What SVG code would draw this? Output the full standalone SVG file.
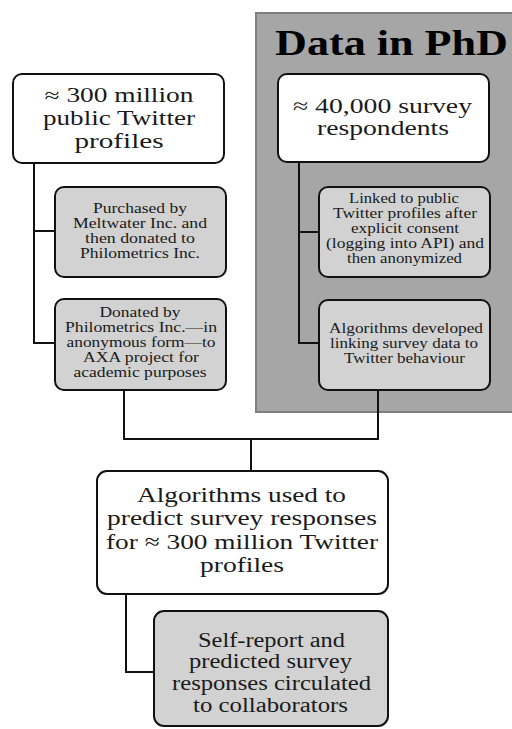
<svg xmlns="http://www.w3.org/2000/svg" width="512" height="729" viewBox="0 0 512 729">
<style>
  text { font-family: "Liberation Serif", "Times New Roman", serif; fill: #1a1a1a; text-anchor: middle; }
  .w { fill: #ffffff; stroke: #111; stroke-width: 2; }
  .g { fill: #d2d2d2; stroke: #111; stroke-width: 2; }
  .big { font-size: 21px; }
  .sm { font-size: 15px; }
  .conn { fill: none; stroke: #111; stroke-width: 2; }
</style>
<rect width="512" height="729" fill="#ffffff"/>
<g id="panel">
  <rect x="256" y="13" width="270" height="399" fill="#a6a6a6" stroke="#7f7f7f" stroke-width="2"/>
  <text x="391.5" y="55" style="font-size:35px;font-weight:bold;fill:#000" textLength="233" lengthAdjust="spacingAndGlyphs">Data in PhD</text>
</g>
<g id="connectors">
  <polyline class="conn" points="34,163 34,343 55,343"/>
  <line class="conn" x1="34" y1="231" x2="55" y2="231"/>
  <polyline class="conn" points="299,162 299,343 319,343"/>
  <line class="conn" x1="299" y1="232" x2="319" y2="232"/>
  <polyline class="conn" points="124,390 124,439 378,439 378,390"/>
  <line class="conn" x1="251" y1="439" x2="251" y2="471"/>
  <polyline class="conn" points="126,594 126,672 154,672"/>
</g>
<g id="n1">
  <rect class="w" x="13" y="74" width="211" height="89" rx="9"/>
  <text class="big" x="119" y="102" style="font-size:20px" textLength="149" lengthAdjust="spacingAndGlyphs">≈ 300 million</text>
  <text class="big" x="119" y="125" style="font-size:20px" textLength="152" lengthAdjust="spacingAndGlyphs">public Twitter</text>
  <text class="big" x="119" y="148" style="font-size:20px" textLength="89" lengthAdjust="spacingAndGlyphs">profiles</text>
</g>
<g id="n2">
  <rect class="g" x="55" y="187" width="171" height="90" rx="9"/>
  <text class="sm" x="140" y="213" textLength="94" lengthAdjust="spacingAndGlyphs">Purchased by</text>
  <text class="sm" x="140" y="228" textLength="134" lengthAdjust="spacingAndGlyphs">Meltwater Inc. and</text>
  <text class="sm" x="140" y="243" textLength="110" lengthAdjust="spacingAndGlyphs">then donated to</text>
  <text class="sm" x="140" y="258" textLength="120" lengthAdjust="spacingAndGlyphs">Philometrics Inc.</text>
</g>
<g id="n3">
  <rect class="g" x="55" y="299" width="171" height="91" rx="9"/>
  <text class="sm" x="140" y="317" textLength="81" lengthAdjust="spacingAndGlyphs">Donated by</text>
  <text class="sm" x="141" y="332" textLength="152" lengthAdjust="spacingAndGlyphs">Philometrics Inc.—in</text>
  <text class="sm" x="141" y="347" textLength="149" lengthAdjust="spacingAndGlyphs">anonymous form—to</text>
  <text class="sm" x="141" y="362" textLength="116" lengthAdjust="spacingAndGlyphs">AXA project for</text>
  <text class="sm" x="140" y="377" textLength="133" lengthAdjust="spacingAndGlyphs">academic purposes</text>
</g>
<g id="n4">
  <rect class="w" x="278" y="74" width="211" height="88" rx="9"/>
  <text class="big" x="382.5" y="113" textLength="179" lengthAdjust="spacingAndGlyphs">≈ 40,000 survey</text>
  <text class="big" x="383" y="135" textLength="132" lengthAdjust="spacingAndGlyphs">respondents</text>
</g>
<g id="n5">
  <rect class="g" x="319" y="187" width="171" height="90" rx="9"/>
  <text class="sm" x="404" y="203" textLength="110" lengthAdjust="spacingAndGlyphs">Linked to public</text>
  <text class="sm" x="405" y="218" textLength="144" lengthAdjust="spacingAndGlyphs">Twitter profiles after</text>
  <text class="sm" x="405" y="233" textLength="108" lengthAdjust="spacingAndGlyphs">explicit consent</text>
  <text class="sm" x="405" y="248" textLength="158" lengthAdjust="spacingAndGlyphs">(logging into API) and</text>
  <text class="sm" x="404.5" y="263" textLength="115" lengthAdjust="spacingAndGlyphs">then anonymized</text>
</g>
<g id="n6">
  <rect class="g" x="319" y="300" width="171" height="90" rx="9"/>
  <text class="sm" x="406" y="333" textLength="154" lengthAdjust="spacingAndGlyphs">Algorithms developed</text>
  <text class="sm" x="404" y="348" textLength="148" lengthAdjust="spacingAndGlyphs">linking survey data to</text>
  <text class="sm" x="404.5" y="363" textLength="121" lengthAdjust="spacingAndGlyphs">Twitter behaviour</text>
</g>
<g id="n7">
  <rect class="w" x="97" y="471" width="291" height="123" rx="10"/>
  <text class="big" x="241.5" y="502" style="font-size:22px" textLength="209" lengthAdjust="spacingAndGlyphs">Algorithms used to</text>
  <text class="big" x="242" y="525" style="font-size:22px" textLength="270" lengthAdjust="spacingAndGlyphs">predict survey responses</text>
  <text class="big" x="242" y="549" style="font-size:22px" textLength="272" lengthAdjust="spacingAndGlyphs">for ≈ 300 million Twitter</text>
  <text class="big" x="242" y="572" style="font-size:22px" textLength="84" lengthAdjust="spacingAndGlyphs">profiles</text>
</g>
<g id="n8">
  <rect class="g" x="154" y="611" width="234" height="115" rx="10"/>
  <text class="big" x="271.5" y="647" style="font-size:20px" textLength="147" lengthAdjust="spacingAndGlyphs">Self-report and</text>
  <text class="big" x="270.5" y="668" style="font-size:20px" textLength="163" lengthAdjust="spacingAndGlyphs">predicted survey</text>
  <text class="big" x="271.5" y="690" style="font-size:20px" textLength="199" lengthAdjust="spacingAndGlyphs">responses circulated</text>
  <text class="big" x="270.5" y="712" style="font-size:20px" textLength="155" lengthAdjust="spacingAndGlyphs">to collaborators</text>
</g>
</svg>
